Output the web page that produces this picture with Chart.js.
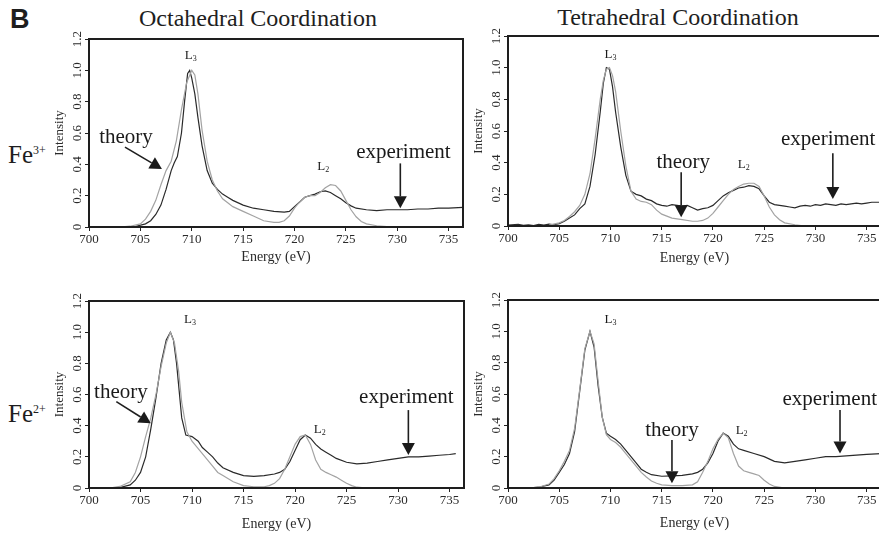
<!DOCTYPE html>
<html lang="en">
<head>
<meta charset="UTF-8">
<title>Fe L-edge spectra</title>
<script src="https://cdn.jsdelivr.net/npm/chart.js"></script>
<style>
  html, body { margin: 0; padding: 0; background: #fff; overflow: hidden; }
  body { position: relative; width: 879px; height: 534px; font-family: "Liberation Serif", "Times New Roman", serif; color: #1e1e1e; }
  canvas { position: absolute; }
  .txt { position: absolute; white-space: nowrap; line-height: 1; }
  .title { font-size: 24px; transform: translateX(-50%); }
  .ion { font-size: 25px; }
  .ion sup { font-size: 12px; vertical-align: 9px; line-height: 0; }
</style>
</head>
<body>
<div class="txt" style="left:10px;top:4px;font:bold 27px 'Liberation Sans', Arial, sans-serif;">B</div>
<div class="txt title" style="left:258px;top:6px;">Octahedral Coordination</div>
<div class="txt title" style="left:678px;top:5px;">Tetrahedral Coordination</div>
<div class="txt ion" style="left:8px;top:142px;">Fe<sup>3+</sup></div>
<div class="txt ion" style="left:8px;top:401px;">Fe<sup>2+</sup></div>

<canvas id="octFe3" width="450" height="252" style="left:20px;top:20px;"></canvas>
<canvas id="tetFe3" width="420" height="254" style="left:470px;top:18px;"></canvas>
<canvas id="octFe2" width="450" height="254" style="left:20px;top:280px;"></canvas>
<canvas id="tetFe2" width="420" height="254" style="left:470px;top:280px;"></canvas>

<script>
// axis ticks
const energyTicks = [700, 705, 710, 715, 720, 725, 730, 735];
const intensityTicks = [0, 0.2, 0.4, 0.6, 0.8, 1.0, 1.2];

// Fe3+ octahedral
const octFe3ExpE = [700, 703, 704.5, 705.5, 706, 706.5, 707, 707.5, 708, 708.3, 708.6, 709, 709.3, 709.6, 709.8, 710, 710.3, 710.6, 711, 711.5, 712, 712.5, 713, 713.5, 714, 715, 716, 717, 718, 719, 719.5, 720, 720.5, 721, 721.5, 722, 722.5, 723, 723.5, 724, 724.5, 725, 725.5, 726, 727, 728, 729, 730, 731, 732, 733, 734, 735, 736.4];
const octFe3ExpI = [0, 0, 0.003, 0.02, 0.04, 0.08, 0.14, 0.24, 0.36, 0.41, 0.45, 0.6, 0.8, 0.98, 1.0, 0.95, 0.85, 0.7, 0.52, 0.36, 0.28, 0.24, 0.21, 0.19, 0.17, 0.14, 0.12, 0.11, 0.1, 0.095, 0.1, 0.13, 0.16, 0.19, 0.2, 0.21, 0.225, 0.23, 0.22, 0.2, 0.18, 0.155, 0.135, 0.12, 0.11, 0.105, 0.11, 0.11, 0.11, 0.115, 0.115, 0.12, 0.12, 0.125];
const octFe3ThE = [703, 704, 705, 705.5, 706, 706.5, 707, 707.5, 708, 708.5, 709, 709.5, 710, 710.3, 710.6, 711, 711.5, 712, 712.5, 713, 714, 715, 716, 717, 718, 718.5, 719, 719.5, 720, 720.5, 721, 721.5, 722, 722.5, 723, 723.5, 724, 724.5, 725, 725.5, 726, 726.5, 727, 728, 729, 731];
const octFe3ThI = [0, 0.005, 0.02, 0.05, 0.1, 0.17, 0.27, 0.36, 0.42, 0.55, 0.75, 0.92, 1.0, 0.97, 0.85, 0.62, 0.42, 0.3, 0.23, 0.18, 0.13, 0.1, 0.07, 0.04, 0.03, 0.03, 0.04, 0.07, 0.12, 0.16, 0.19, 0.2, 0.2, 0.22, 0.25, 0.27, 0.265, 0.23, 0.17, 0.11, 0.065, 0.035, 0.02, 0.008, 0.003, 0];

// Fe3+ tetrahedral
const tetFe3ExpE = [700, 701, 701.5, 702, 702.5, 703, 703.5, 704, 704.5, 705, 705.5, 706, 706.5, 707, 707.5, 708, 708.5, 709, 709.3, 709.6, 709.9, 710.2, 710.5, 711, 711.5, 712, 712.5, 713, 713.5, 714, 714.5, 715, 715.5, 716, 716.5, 717, 717.5, 718, 718.5, 719, 719.5, 720, 720.5, 721, 721.5, 722, 722.5, 723, 723.5, 724, 724.5, 725, 725.5, 726, 726.5, 727, 727.5, 728, 728.5, 729, 729.5, 730, 730.5, 731, 731.5, 732, 732.5, 733, 733.5, 734, 734.5, 735, 735.5, 736.4];
const tetFe3ExpI = [0.005, 0.01, 0.004, 0.008, 0.003, 0.01, 0.006, 0.012, 0.008, 0.015, 0.03, 0.05, 0.07, 0.11, 0.14, 0.25, 0.45, 0.72, 0.9, 1.0, 0.99, 0.88, 0.72, 0.5, 0.32, 0.22, 0.2, 0.19, 0.17, 0.16, 0.14, 0.13, 0.125, 0.135, 0.13, 0.125, 0.13, 0.115, 0.1, 0.11, 0.115, 0.13, 0.16, 0.19, 0.21, 0.225, 0.24, 0.245, 0.255, 0.25, 0.235, 0.19, 0.15, 0.135, 0.13, 0.125, 0.12, 0.115, 0.125, 0.13, 0.125, 0.135, 0.13, 0.14, 0.135, 0.13, 0.14, 0.135, 0.14, 0.145, 0.14, 0.145, 0.15, 0.15];
const tetFe3ThE = [704, 705, 705.5, 706, 706.5, 707, 707.5, 708, 708.5, 709, 709.3, 709.6, 709.9, 710.2, 710.5, 711, 711.5, 712, 712.5, 713, 713.5, 714, 714.5, 715, 716, 717, 718, 718.5, 719, 719.5, 720, 720.5, 721, 721.5, 722, 722.5, 723, 723.5, 724, 724.5, 725, 725.5, 726, 726.5, 727, 728, 729];
const tetFe3ThI = [0.005, 0.02, 0.035, 0.06, 0.09, 0.13, 0.2, 0.33, 0.55, 0.8, 0.92, 0.99, 1.0, 0.95, 0.85, 0.6, 0.38, 0.22, 0.17, 0.155, 0.15, 0.135, 0.1, 0.075, 0.05, 0.04, 0.03, 0.03, 0.035, 0.05, 0.08, 0.12, 0.16, 0.2, 0.23, 0.25, 0.265, 0.27, 0.27, 0.25, 0.19, 0.12, 0.07, 0.04, 0.02, 0.008, 0];

// Fe2+ octahedral
const octFe2ExpE = [701, 703, 704, 704.5, 705, 705.5, 706, 706.5, 707, 707.5, 707.9, 708.2, 708.5, 709, 709.4, 710, 710.6, 711, 711.5, 712, 712.5, 713, 714, 715, 716, 717, 718, 718.5, 719, 719.5, 720, 720.5, 721, 721.5, 722, 722.5, 723, 723.5, 724, 725, 726, 727, 728, 729, 730, 731, 732, 733, 734, 735, 735.6];
const octFe2ExpI = [0, 0.003, 0.02, 0.05, 0.1, 0.2, 0.38, 0.58, 0.8, 0.95, 1.0, 0.95, 0.8, 0.45, 0.34, 0.33, 0.3, 0.26, 0.23, 0.2, 0.16, 0.13, 0.1, 0.08, 0.075, 0.08, 0.09, 0.1, 0.12, 0.17, 0.24, 0.31, 0.34, 0.32, 0.28, 0.25, 0.23, 0.21, 0.19, 0.165, 0.155, 0.16, 0.17, 0.18, 0.19, 0.2, 0.2, 0.205, 0.21, 0.215, 0.22];
const octFe2ThE = [702, 703, 704, 704.5, 705, 705.5, 706, 706.5, 707, 707.5, 707.9, 708.3, 708.7, 709, 709.5, 710, 710.5, 711, 711.5, 712, 712.5, 713, 714, 715, 716, 717, 717.5, 718, 718.5, 719, 719.5, 720, 720.5, 721, 721.5, 722, 722.5, 723, 723.5, 724, 724.5, 725, 725.5, 726, 727];
const octFe2ThI = [0, 0.01, 0.04, 0.1, 0.2, 0.33, 0.45, 0.6, 0.78, 0.93, 1.0, 0.93, 0.75, 0.55, 0.36, 0.3, 0.26, 0.22, 0.18, 0.14, 0.1, 0.08, 0.04, 0.015, 0.008, 0.008, 0.015, 0.03, 0.06, 0.12, 0.2, 0.28, 0.33, 0.34, 0.28, 0.18, 0.12, 0.1, 0.085, 0.07, 0.05, 0.03, 0.015, 0.005, 0];

// Fe2+ tetrahedral
const tetFe2ExpE = [702, 703, 704, 704.5, 705, 705.5, 706, 706.5, 707, 707.5, 708, 708.4, 708.8, 709.2, 709.6, 710, 710.5, 711, 711.5, 712, 712.5, 713, 713.5, 714, 715, 716, 717, 718, 718.5, 719, 719.5, 720, 720.5, 721, 721.5, 722, 722.5, 723, 724, 725, 726, 727, 728, 729, 730, 731, 732, 733, 734, 735, 736.4];
const tetFe2ExpI = [0, 0.005, 0.02, 0.05, 0.1, 0.15, 0.22, 0.36, 0.62, 0.88, 1.0, 0.9, 0.65, 0.45, 0.35, 0.33, 0.31, 0.28, 0.24, 0.2, 0.16, 0.12, 0.1, 0.085, 0.075, 0.078, 0.08, 0.09, 0.1, 0.12, 0.16, 0.22, 0.3, 0.35, 0.33, 0.28, 0.25, 0.24, 0.22, 0.2, 0.17, 0.16, 0.17, 0.18, 0.19, 0.2, 0.2, 0.205, 0.21, 0.215, 0.22];
const tetFe2ThE = [702, 703, 704, 704.5, 705, 705.5, 706, 706.5, 707, 707.5, 708, 708.4, 708.8, 709.2, 709.6, 710, 710.5, 711, 711.5, 712, 712.5, 713, 713.5, 714, 714.5, 715, 716, 717, 718, 718.5, 719, 719.5, 720, 720.5, 721, 721.5, 722, 722.5, 723, 723.5, 724, 724.5, 725, 725.5, 726, 727];
const tetFe2ThI = [0, 0.005, 0.025, 0.06, 0.11, 0.17, 0.24, 0.38, 0.63, 0.89, 1.0, 0.92, 0.68, 0.45, 0.34, 0.31, 0.29, 0.26, 0.22, 0.18, 0.14, 0.1, 0.07, 0.045, 0.03, 0.02, 0.015, 0.015, 0.02, 0.04, 0.1, 0.17, 0.25, 0.31, 0.35, 0.32, 0.22, 0.14, 0.11, 0.1, 0.09, 0.08, 0.05, 0.025, 0.01, 0];

const serif = '"Liberation Serif", "Times New Roman", serif';
const pairs = (xs, ys) => xs.map((v, i) => ({ x: v, y: ys[i] }));

function drawArrow(ctx, x1, y1, x2, y2) {
  const ang = Math.atan2(y2 - y1, x2 - x1), len = 12, half = 6.5;
  const bx = x2 - len * Math.cos(ang), by = y2 - len * Math.sin(ang);
  ctx.beginPath();
  ctx.moveTo(x1, y1);
  ctx.lineTo(bx, by);
  ctx.lineWidth = 1.6;
  ctx.stroke();
  ctx.beginPath();
  ctx.moveTo(x2, y2);
  ctx.lineTo(bx + half * Math.sin(ang), by - half * Math.cos(ang));
  ctx.lineTo(bx - half * Math.sin(ang), by + half * Math.cos(ang));
  ctx.closePath();
  ctx.fill();
}

function drawPeak(ctx, main, sub, cx, by) {
  ctx.font = '13px ' + serif;
  const w1 = ctx.measureText(main).width;
  ctx.font = '8px ' + serif;
  const w2 = ctx.measureText(sub).width;
  const left = cx - (w1 + w2) / 2;
  ctx.textAlign = 'left';
  ctx.font = '13px ' + serif;
  ctx.fillText(main, left, by);
  ctx.font = '8px ' + serif;
  ctx.fillText(sub, left + w1, by + 2);
}

// frame around the plot area + arrows and labels placed in data units
const notesPlugin = {
  id: 'notes',
  afterDatasetsDraw(chart) {
    const n = chart.options.plugins.notes;
    const { ctx, chartArea: a, scales: { x, y } } = chart;
    ctx.save();
    ctx.strokeStyle = '#1e1e1e';
    ctx.fillStyle = '#1a1a1a';
    ctx.lineWidth = 2;
    ctx.strokeRect(a.left, a.top, a.right - a.left, a.bottom - a.top);
    ctx.textBaseline = 'alphabetic';
    n.words.forEach(w => {
      ctx.font = '21px ' + serif;
      ctx.textAlign = 'center';
      ctx.fillText(w.text, x.getPixelForValue(w.x), y.getPixelForValue(w.y));
    });
    n.arrows.forEach(r => drawArrow(ctx, x.getPixelForValue(r.x1), y.getPixelForValue(r.y1),
      x.getPixelForValue(r.x2), y.getPixelForValue(r.y2)));
    n.peaks.forEach(p => drawPeak(ctx, 'L', p.sub, x.getPixelForValue(p.x), y.getPixelForValue(p.y)));
    ctx.restore();
  }
};

function makePanel(id, p) {
  new Chart(document.getElementById(id), {
    type: 'line',
    data: {
      datasets: [
        { label: 'theory', data: pairs(p.thE, p.thI), borderColor: '#a3a3a3', borderWidth: 1.2, pointRadius: 0, tension: 0 },
        { label: 'experiment', data: pairs(p.exE, p.exI), borderColor: '#2a2a2a', borderWidth: 1.2, pointRadius: 0, tension: 0 }
      ]
    },
    options: {
      responsive: false,
      animation: false,
      events: [],
      layout: { padding: p.pad },
      plugins: {
        legend: { display: false },
        tooltip: { enabled: false },
        notes: p.notes
      },
      scales: {
        x: {
          type: 'linear',
          min: 700,
          max: 736.4,
          afterFit: s => { s.height = p.xH; },
          afterBuildTicks: s => { s.ticks = energyTicks.map(v => ({ value: v })); },
          ticks: { color: '#2a2a2a', padding: 1, font: { family: serif, size: 13 }, callback: v => String(v) },
          grid: { display: true, drawOnChartArea: false, drawTicks: true, tickLength: 4, color: '#222' },
          border: { display: false },
          title: { display: true, text: 'Energy (eV)', color: '#2a2a2a', padding: 0, font: { family: serif, size: 14 } }
        },
        y: {
          type: 'linear',
          min: 0,
          max: 1.2,
          afterFit: s => { s.width = 37; },
          afterBuildTicks: s => { s.ticks = intensityTicks.map(v => ({ value: v })); },
          ticks: {
            color: '#2a2a2a', padding: -1, minRotation: 90, maxRotation: 90, crossAlign: 'center',
            font: { family: serif, size: 13 },
            callback: v => v === 0 ? '0' : v.toFixed(1)
          },
          grid: { display: true, drawOnChartArea: false, drawTicks: true, tickLength: 4, color: '#222' },
          border: { display: false },
          title: { display: true, text: 'Intensity', color: '#2a2a2a', padding: 0, font: { family: serif, size: 13 } }
        }
      }
    },
    plugins: [notesPlugin]
  });
}

makePanel('octFe3', {
  exE: octFe3ExpE, exI: octFe3ExpI, thE: octFe3ThE, thI: octFe3ThI,
  pad: { left: 32, top: 19, right: 7, bottom: 6 }, xH: 39,
  notes: {
    words: [{ text: 'theory', x: 703.6, y: 0.534 }, { text: 'experiment', x: 730.6, y: 0.438 }],
    arrows: [{ x1: 703.5, y1: 0.51, x2: 707.1, y2: 0.37 }, { x1: 730.3, y1: 0.406, x2: 730.3, y2: 0.119 }],
    peaks: [{ sub: '3', x: 709.9, y: 1.072 }, { sub: '2', x: 722.8, y: 0.364 }]
  }
});

makePanel('tetFe3', {
  exE: tetFe3ExpE, exI: tetFe3ExpI, thE: tetFe3ThE, thI: tetFe3ThI,
  pad: { left: 1, top: 18, right: 9, bottom: 5 }, xH: 41,
  notes: {
    words: [{ text: 'theory', x: 717.1, y: 0.364 }, { text: 'experiment', x: 731.25, y: 0.51 }],
    arrows: [{ x1: 716.9, y1: 0.34, x2: 716.9, y2: 0.055 }, { x1: 731.7, y1: 0.46, x2: 731.7, y2: 0.17 }],
    peaks: [{ sub: '3', x: 710.0, y: 1.06 }, { sub: '2', x: 723.0, y: 0.364 }]
  }
});

makePanel('octFe2', {
  exE: octFe2ExpE, exI: octFe2ExpI, thE: octFe2ThE, thI: octFe2ThI,
  pad: { left: 32, top: 21, right: 6, bottom: 1 }, xH: 45,
  notes: {
    words: [{ text: 'theory', x: 703.1, y: 0.576 }, { text: 'experiment', x: 730.8, y: 0.544 }],
    arrows: [{ x1: 702.65, y1: 0.554, x2: 706.0, y2: 0.415 }, { x1: 731.0, y1: 0.5, x2: 731.0, y2: 0.212 }],
    peaks: [{ sub: '3', x: 709.8, y: 1.057 }, { sub: '2', x: 722.4, y: 0.351 }]
  }
});

makePanel('tetFe2', {
  exE: tetFe2ExpE, exI: tetFe2ExpI, thE: tetFe2ThE, thI: tetFe2ThI,
  pad: { left: 1, top: 20, right: 9, bottom: 2 }, xH: 44,
  notes: {
    words: [{ text: 'theory', x: 716.0, y: 0.329 }, { text: 'experiment', x: 731.4, y: 0.53 }],
    arrows: [{ x1: 716.0, y1: 0.306, x2: 716.0, y2: 0.03 }, { x1: 732.4, y1: 0.498, x2: 732.4, y2: 0.221 }],
    peaks: [{ sub: '3', x: 710.0, y: 1.051 }, { sub: '2', x: 722.8, y: 0.345 }]
  }
});
</script>
</body>
</html>
